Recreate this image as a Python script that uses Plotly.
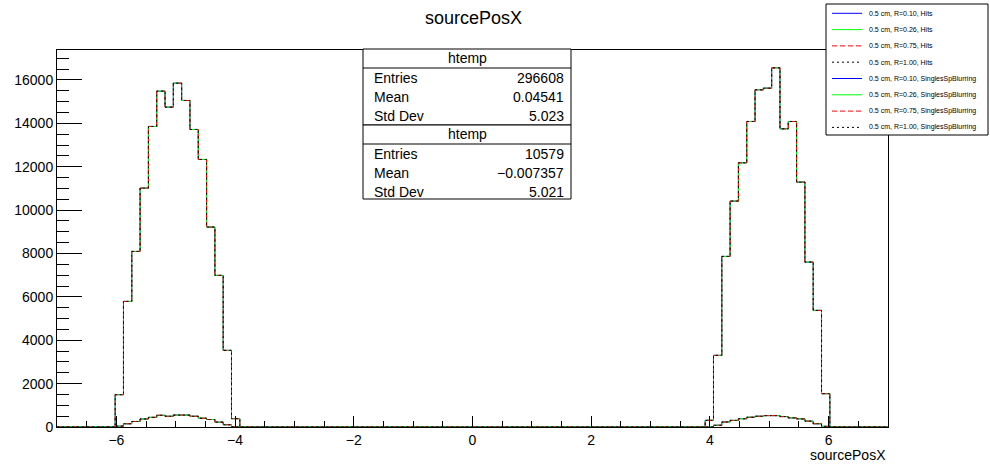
import numpy as np
import plotly.graph_objects as go

# ---------------- data ----------------
x_min, x_max, n_bins = -7.0, 7.0, 100

# "Hits" histogram (296608 entries): counts of the filled bins
hits_left_first_bin = 7      # bin with low edge -6.02
hits_left = [1490, 5790, 8095, 11013, 13855, 15483, 14746, 15852, 15053,
             13716, 12334, 9216, 6989, 3533, 384]
hits_right_first_bin = 78    # bin with low edge 3.92
hits_right = [307, 3302, 7864, 10414, 12180, 14085, 15544, 15621, 16558,
              13747, 14085, 11290, 7603, 5376, 1536]

# "SinglesSpBlurring" histogram (10579 entries)
blur_left_first_bin = 7
blur_left = [40, 150, 255, 370, 445, 540, 495, 550, 550, 495, 405, 345, 225, 105, 8]
blur_right_first_bin = 78
blur_right = [0, 80, 230, 305, 380, 450, 495, 525, 525, 480, 420, 375, 270, 150, 30]

series_names = ["0.5 cm, R=0.10", "0.5 cm, R=0.26", "0.5 cm, R=0.75", "0.5 cm, R=1.00"]
series_colors = ["#0000ff", "#00ff00", "#ff0000", "#000000"]
series_dash = ["solid", "solid", "5px,3px", "2px,3px"]
tags = ["Hits", "SinglesSpBlurring"]

stats = [
    ("htemp", [("Entries", "296608"), ("Mean", "0.04541"), ("Std Dev", "5.023")]),
    ("htemp", [("Entries", "10579"), ("Mean", "\u22120.007357"), ("Std Dev", "5.021")]),
]

# ---------------- build ----------------
edges = np.linspace(x_min, x_max, n_bins + 1)


def full_counts(parts):
    c = np.zeros(n_bins)
    for first, vals in parts:
        c[first:first + len(vals)] = vals
    return c


hists = {
    "Hits": full_counts([(hits_left_first_bin, hits_left), (hits_right_first_bin, hits_right)]),
    "SinglesSpBlurring": full_counts([(blur_left_first_bin, blur_left), (blur_right_first_bin, blur_right)]),
}

fig = go.Figure()
for tag in tags:
    c = hists[tag]
    ys = np.append(c, c[-1])
    for name, col, dash in zip(series_names, series_colors, series_dash):
        fig.add_trace(go.Scatter(
            x=edges, y=ys, mode="lines", line_shape="hv",
            line=dict(color=col, width=1, dash=dash),
            name=f"{name}, {tag}", showlegend=False, hoverinfo="skip"))

# geometry helpers (pixel -> paper)
L, R, T, B = 57, 888, 50, 427
W, H = 990, 468


def px(x):
    return (x - L) / (R - L)


def py(y):
    return (B - y) / (B - T)


shapes = []
annotations = []

# stats boxes
sx0, sx1 = 363, 571
box_tops = [49, 125]
box_h = [76, 74]
for (title, rows), top, h in zip(stats, box_tops, box_h):
    shapes.append(dict(type="rect", xref="paper", yref="paper", x0=px(sx0), x1=px(sx1),
                       y0=py(top + h), y1=py(top), fillcolor="white",
                       line=dict(color="black", width=1), layer="above"))
    shapes.append(dict(type="line", xref="paper", yref="paper", x0=px(sx0), x1=px(sx1),
                       y0=py(top + 19), y1=py(top + 19), line=dict(color="black", width=1),
                       layer="above"))
    annotations.append(dict(text=title, xref="paper", yref="paper", x=px((sx0 + sx1) / 2),
                            y=py(top + 9), xanchor="center", yanchor="middle", showarrow=False,
                            font=dict(size=14, color="black")))
    for i, (k, v) in enumerate(rows):
        yy = py(top + 29 + i * 19)
        annotations.append(dict(text=k, xref="paper", yref="paper", x=px(sx0 + 9), y=yy,
                                xanchor="left", yanchor="middle", showarrow=False,
                                font=dict(size=14, color="black")))
        annotations.append(dict(text=v, xref="paper", yref="paper", x=px(sx1 - 5), y=yy,
                                xanchor="right", yanchor="middle", showarrow=False,
                                font=dict(size=14, color="black")))

# manual legend
lx0, lx1, ly0, ly1 = 826, 988, 4, 135
shapes.append(dict(type="rect", xref="paper", yref="paper", x0=px(lx0), x1=px(lx1),
                   y0=py(ly1), y1=py(ly0), fillcolor="white",
                   line=dict(color="black", width=1), layer="above"))
k = 0
for tag in tags:
    for name, col, dash in zip(series_names, series_colors, series_dash):
        yy = 13.3 + k * 16.3
        shapes.append(dict(type="line", xref="paper", yref="paper", x0=px(832), x1=px(862),
                           y0=py(yy), y1=py(yy), line=dict(color=col, width=1, dash=dash),
                           layer="above"))
        annotations.append(dict(text=f"{name}, {tag}", xref="paper", yref="paper", x=px(867),
                                y=py(yy), xanchor="left", yanchor="middle", showarrow=False,
                                font=dict(size=7, color="black")))
        k += 1

# x-axis title
annotations.append(dict(text="sourcePosX", xref="paper", yref="paper", x=1.0, y=py(455),
                        xanchor="right", yanchor="middle", showarrow=False,
                        font=dict(size=14, color="black")))

fig.update_layout(
    width=W, height=H,
    margin=dict(l=L, r=W - R, t=T, b=H - B, pad=0),
    paper_bgcolor="white", plot_bgcolor="white",
    font=dict(family="Liberation Sans, Arial, sans-serif", color="black"),
    title=dict(text="sourcePosX", x=px((L + R) / 2 + 1), xref="paper", y=1 - 18 / H,
               yanchor="middle", xanchor="center", font=dict(size=18, color="black")),
    shapes=shapes, annotations=annotations, showlegend=False,
)
fig.update_xaxes(range=[x_min, x_max], dtick=2, tick0=0, ticks="inside", ticklen=11,
                 tickcolor="black", showgrid=False, zeroline=False, showline=True,
                 linecolor="black", linewidth=1, mirror=True,
                 tickfont=dict(size=14, color="black"),
                 minor=dict(dtick=0.5, ticks="inside", ticklen=6, tickcolor="black",
                            showgrid=False))
fig.update_yaxes(range=[0, 17380], dtick=2000, tick0=0, ticks="inside", ticklen=25,
                 tickcolor="black", showgrid=False, zeroline=False, showline=True,
                 linecolor="black", linewidth=1, mirror=True, tickformat="d",
                 tickfont=dict(size=14, color="black"),
                 minor=dict(dtick=500, ticks="inside", ticklen=12, tickcolor="black",
                            showgrid=False))

fig.write_html("out.html", config={"displayModeBar": False},
               post_script="document.body.style.margin='0px';")
